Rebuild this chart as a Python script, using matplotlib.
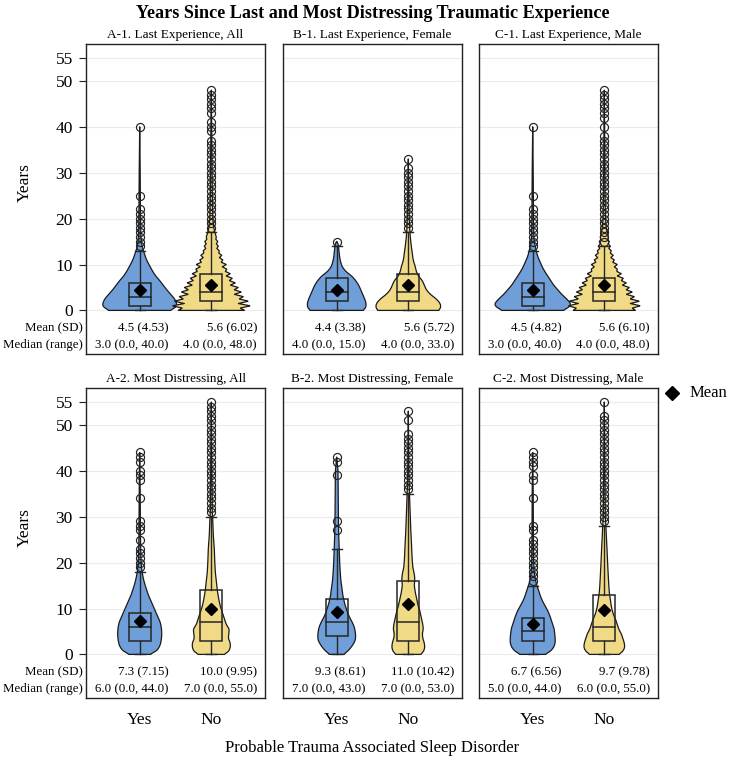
import numpy as np
import matplotlib
matplotlib.use("Agg")
import matplotlib.pyplot as plt
from matplotlib.patches import Rectangle
from matplotlib.lines import Line2D
import matplotlib.transforms as mtransforms

plt.rcParams['font.family'] = ['Liberation Serif', 'DejaVu Serif']

# ---------------- data ----------------
main_title = "Years Since Last and Most Distressing Traumatic Experience"
panel_titles = ["A-1. Last Experience, All", "B-1. Last Experience, Female", "C-1. Last Experience, Male",
                "A-2. Most Distressing, All", "B-2. Most Distressing, Female", "C-2. Most Distressing, Male"]
groups = ["Yes", "No"]
x_label = "Probable Trauma Associated Sleep Disorder"
y_label = "Years"
y_ticks = [0, 10, 20, 30, 40, 50, 55]

mean_yes = [4.5, 4.4, 4.5, 7.3, 9.3, 6.7]
sd_yes = [4.53, 3.38, 4.82, 7.15, 8.61, 6.56]
median_yes = [3.0, 4.0, 3.0, 6.0, 7.0, 5.0]
min_yes = [0.0, 0.0, 0.0, 0.0, 0.0, 0.0]
max_yes = [40.0, 15.0, 40.0, 44.0, 43.0, 44.0]
q1_yes = [1, 2, 1, 3, 4, 3]
q3_yes = [6, 7, 6, 9, 12, 8]
whisker_yes = [13, 14, 13, 18, 23, 15]

mean_no = [5.6, 5.6, 5.6, 10.0, 11.0, 9.7]
sd_no = [6.02, 5.72, 6.10, 9.95, 10.42, 9.78]
median_no = [4.0, 4.0, 4.0, 7.0, 7.0, 6.0]
min_no = [0.0, 0.0, 0.0, 0.0, 0.0, 0.0]
max_no = [48.0, 33.0, 48.0, 55.0, 53.0, 55.0]
q1_no = [2, 2, 2, 3, 3, 3]
q3_no = [8, 8, 7, 14, 16, 13]
whisker_no = [17, 17, 14, 30, 35, 28]

# outliers
out_A1_yes = [14, 15, 16, 17, 18, 19, 20, 21, 22, 25, 40]
out_A1_no = [18, 19, 20, 21, 22, 23, 24, 25, 26, 27, 28, 29, 30, 31, 32, 33, 34, 35, 36,
             37, 39, 40, 41, 43, 44, 45, 46, 47, 48]
out_B1_yes = [15]
out_B1_no = [18, 19, 20, 21, 22, 23, 24, 25, 26, 27, 28, 29, 30, 31, 33]
out_C1_yes = [14, 15, 16, 17, 18, 19, 20, 21, 22, 25, 40]
out_C1_no = [15, 16, 17, 18, 19, 20, 21, 22, 23, 24, 25, 26, 27, 28, 29, 30, 31, 32, 33, 34, 35, 36,
             37, 38, 40, 42, 43, 44, 45, 46, 47, 48]
out_A2_yes = [19, 20, 21, 22, 23, 25, 27, 28, 29, 34, 38, 39, 40, 42, 43, 44]
out_A2_no = [31, 32, 33, 34, 35, 36, 37, 38, 39, 40, 41, 42, 43, 44, 45, 46, 47, 48, 49, 50,
             51, 52, 53, 54, 55]
out_B2_yes = [27, 29, 39, 42, 43]
out_B2_no = [36, 37, 38, 39, 40, 41, 42, 43, 44, 45, 46, 47, 48, 51, 53]
out_C2_yes = [16, 17, 18, 19, 20, 21, 22, 23, 24, 25, 27, 28, 34, 38, 39, 41, 42, 43, 44]
out_C2_no = [29, 30, 31, 32, 33, 34, 35, 36, 37, 38, 39, 40, 41, 42, 43, 44, 45, 46, 47, 48,
             49, 50, 51, 52, 55]

# violin density profiles (level in years, relative half width)
vy_A1_yes = [0, 0.5, 1, 1.5, 2.5, 3.5, 4.5, 5.5, 6.5, 7.5, 8.5, 9.5, 10.5, 11.5, 12.5, 13.5, 14.5, 16, 20, 30, 40]
vw_A1_yes = [30, 35, 37, 37, 35, 31, 27, 23.5, 20, 16, 13, 10.5, 8, 6, 4.5, 3, 2, 1.2, 0.8, 0.5, 0]
vy_A1_no = [0, .5, 1, 1.5, 2, 2.5, 3, 3.5, 4, 4.5, 5, 5.5, 6, 6.5, 7, 7.5, 8, 8.5, 9, 9.5, 10, 10.5,
            11, 11.5, 12, 12.5, 13, 13.5, 14, 14.5, 15, 15.5, 16, 17, 18, 20, 25, 35, 48]
vw_A1_no = [33, 29, 39, 27, 37, 28, 32, 23, 30, 23, 27, 19, 24, 18, 21, 15, 19, 14, 15.5, 11, 15, 10,
            11.5, 8, 10.5, 7.5, 8, 5.5, 7, 5, 6.5, 4.5, 5, 3.5, 2.5, 1.5, 1, 0.6, 0]
vy_B1_yes = [0, 0.5, 1.5, 2.5, 3.5, 4.5, 5.5, 6.5, 7.5, 8.5, 9.5, 10.5, 11.5, 12.5, 13.5, 14.5, 15]
vw_B1_yes = [26, 29, 29.5, 28, 26, 24, 22, 19, 15, 9, 5.5, 4, 3, 2.5, 2, 1.5, 0]
vy_B1_no = [0, 0.5, 1.5, 2.5, 3.5, 4.5, 5.5, 6.5, 7.5, 8.5, 9.5, 10.5, 11.5, 12.5, 14, 16, 17.5, 20, 25, 33]
vw_B1_no = [30, 32.5, 32, 28, 22, 18, 16, 14, 10, 8, 7, 5.5, 4.5, 4, 3, 2, 1.5, 1, 0.6, 0]
vy_C1_yes = [0, 0.5, 1, 1.5, 2.5, 3.5, 4.5, 5.5, 6.5, 7.5, 8.5, 9.5, 10.5, 11.5, 12.5, 13.5, 14.5, 16, 20, 30, 40]
vw_C1_yes = [30, 35, 37.5, 38, 34, 29, 25, 21, 18, 15, 12, 9.5, 7.5, 5.5, 4, 3, 2, 1.2, 0.8, 0.5, 0]
vy_C1_no = [0, .5, 1, 1.5, 2, 2.5, 3, 3.5, 4, 4.5, 5, 5.5, 6, 6.5, 7, 7.5, 8, 8.5, 9, 9.5, 10, 10.5,
            11, 11.5, 12, 12.5, 13, 13.5, 14, 14.5, 15, 15.5, 16, 17, 18, 20, 25, 35, 48]
vw_C1_no = [31, 28, 36, 26, 35, 26, 30, 22, 28, 22, 25, 18, 22, 17, 19, 13, 17, 12.5, 13, 10, 13, 8.5,
            10, 6.5, 9, 6, 7, 4.5, 6, 4, 5, 3.5, 4, 3, 2, 1.2, 0.8, 0.5, 0]
vy_A2_yes = [0, 0.5, 1, 2, 3, 4, 5, 6, 7, 8, 9, 10, 11, 12, 13, 14, 15, 16, 17, 18, 19, 21, 25, 35, 44]
vw_A2_yes = [10, 15, 18, 20.5, 21.5, 22, 22, 21.5, 20.5, 18.5, 16.5, 14.5, 12.5, 10.5, 8.5, 7, 5.5, 4.2,
             3.2, 2.4, 1.8, 1.2, 0.8, 0.5, 0]
vy_A2_no = [0, 0.5, 1.5, 2.5, 3.5, 4.5, 5.5, 6.5, 7.5, 8.5, 9.5, 10.5, 12, 14, 16, 18, 20, 23, 26, 29, 31, 40, 55]
vw_A2_no = [12, 17, 19, 19, 17, 17.5, 18, 15, 13.5, 12, 10.5, 9, 7.5, 6, 5, 4, 3.5, 3, 2, 1.5, 1, 0.6, 0]
vy_B2_yes = [0, 0.5, 1, 2, 3, 4, 5, 6, 7, 8, 9, 10, 11, 12, 13, 14, 16, 18, 20, 23, 26, 30, 35, 40, 43]
vw_B2_yes = [7, 10, 12.5, 16, 18.5, 19, 18.5, 17.5, 15.5, 13, 11, 9.5, 8, 7, 6, 5.5, 4.2, 3.5, 3, 2.5,
             2, 1.7, 1.5, 1.3, 0]
vy_B2_no = [0, 0.5, 1.5, 2.5, 3.5, 4.5, 5.5, 6.5, 7.5, 8.5, 9.5, 10.5, 12, 13.5, 15, 16.5, 17.5, 19, 21,
            24, 27, 30, 33, 36, 40, 53]
vw_B2_no = [12, 15, 16.5, 16, 14.5, 14, 15, 14.5, 13.5, 12.5, 11.5, 10, 8.5, 7, 6, 6.5, 6, 4.5, 3.8,
            3.2, 2.5, 2, 1.5, 1, 0.6, 0]
vy_C2_yes = [0, 0.5, 1.5, 2.5, 3.5, 4.5, 5.5, 6.5, 7.5, 8.5, 9.5, 10.5, 11.5, 12.5, 13.5, 14.5, 15.5, 16.5,
             18, 20, 25, 35, 44]
vw_C2_yes = [12, 17, 21, 22.5, 22.5, 22, 21.5, 20, 18.5, 17, 15, 12.5, 10, 8, 6.5, 5, 3.5, 2.5, 1.5, 1,
             0.7, 0.5, 0]
vy_C2_no = [0, 0.5, 1.5, 2.5, 3.5, 4.5, 5.5, 6.5, 7.5, 8.5, 9.5, 10.5, 12, 13.5, 15, 17, 20, 23, 26, 28,
            30, 40, 55]
vw_C2_no = [14, 18, 20.5, 20, 18.5, 17, 14.5, 13, 11.5, 9.5, 8, 7, 6, 5, 4.5, 4, 3.3, 2.7, 2, 1.6, 1,
            0.6, 0]

violins_yes = [(vy_A1_yes, vw_A1_yes), (vy_B1_yes, vw_B1_yes), (vy_C1_yes, vw_C1_yes),
               (vy_A2_yes, vw_A2_yes), (vy_B2_yes, vw_B2_yes), (vy_C2_yes, vw_C2_yes)]
violins_no = [(vy_A1_no, vw_A1_no), (vy_B1_no, vw_B1_no), (vy_C1_no, vw_C1_no),
              (vy_A2_no, vw_A2_no), (vy_B2_no, vw_B2_no), (vy_C2_no, vw_C2_no)]
outliers_yes = [out_A1_yes, out_B1_yes, out_C1_yes, out_A2_yes, out_B2_yes, out_C2_yes]
outliers_no = [out_A1_no, out_B1_no, out_C1_no, out_A2_no, out_B2_no, out_C2_no]
jagged_no = [True, False, True, False, False, False]

# ---------------- style ----------------
BLUE = '#6f9ed8'
YELLOW = '#f1da86'
EDGE = '#1a1a1a'
BOXC = '#262626'
W, H = 730, 760
PW, PH = 179, 310
col_left = [86, 283, 479]
row_top = [44, 388]
XLIM = (0.25, 2.75)
YLIM = (-9.5, 58.05)
WSCALE = (XLIM[1] - XLIM[0]) / PW   # relative width units -> x data
BOXW = 0.31
CAPW = 0.14

fig = plt.figure(figsize=(W / 100, H / 100), dpi=100)


def draw_violin(ax, xc, ys, ws, color, smooth=True):
    ys = np.asarray(ys, float)
    ws = np.asarray(ws, float) * WSCALE
    yy = np.linspace(ys[0], ys[-1], 800)
    ww = np.interp(yy, ys, ws)
    if smooth:
        dy = yy[1] - yy[0]
        n = max(1, int(0.9 / dy))
        k = np.ones(n) / n
        pad = np.pad(ww, (n, n), mode='edge')
        ww = np.convolve(pad, k, mode='same')[n:-n]
        ww[-1] = 0.0
    xs = np.concatenate([xc - ww, (xc + ww)[::-1]])
    ysp = np.concatenate([yy, yy[::-1]])
    ax.fill(xs, ysp, facecolor=color, edgecolor=EDGE, lw=0.9, zorder=2, joinstyle='round')


def draw_box(ax, xc, q1, med, q3, whi, lo, mean, outs):
    ax.add_patch(Rectangle((xc - BOXW / 2, q1), BOXW, q3 - q1, fill=False,
                           edgecolor=BOXC, lw=1.1, zorder=3))
    ax.plot([xc - BOXW / 2, xc + BOXW / 2], [med, med], color=BOXC, lw=1.1, zorder=3)
    ax.plot([xc, xc], [q3, whi], color=BOXC, lw=1.0, zorder=3)
    ax.plot([xc, xc], [lo, q1], color=BOXC, lw=1.0, zorder=3)
    ax.plot([xc - CAPW / 2, xc + CAPW / 2], [whi, whi], color=BOXC, lw=1.0, zorder=3)
    ax.plot([xc - CAPW / 2, xc + CAPW / 2], [lo, lo], color=BOXC, lw=1.0, zorder=3)
    ax.plot([xc] * len(outs), outs, ls='none', marker='o', ms=5.8, mfc='none',
            mec='#222222', mew=0.85, zorder=4)
    ax.plot([xc], [mean], ls='none', marker='D', ms=6.5, color='black', zorder=5)


for i in range(6):
    r, c = divmod(i, 3)
    left = col_left[c]
    top = row_top[r]
    ax = fig.add_axes([left / W, 1 - (top + PH) / H, PW / W, PH / H])
    ax.set_xlim(*XLIM)
    ax.set_ylim(*YLIM)
    ax.set_yticks(y_ticks)
    ax.yaxis.grid(True, color='#ebebeb', lw=0.8)
    ax.set_axisbelow(True)
    for s in ax.spines.values():
        s.set_color('#222222')
        s.set_linewidth(1.0)

    draw_violin(ax, 1, *violins_yes[i], BLUE, smooth=True)
    draw_violin(ax, 2, *violins_no[i], YELLOW, smooth=not jagged_no[i])
    draw_box(ax, 1, q1_yes[i], median_yes[i], q3_yes[i], whisker_yes[i], min_yes[i], mean_yes[i], outliers_yes[i])
    draw_box(ax, 2, q1_no[i], median_no[i], q3_no[i], whisker_no[i], min_no[i], mean_no[i], outliers_no[i])

    # statistics rows
    for xc, m, sd, md, mn, mx in [(1.40, mean_yes[i], sd_yes[i], median_yes[i], min_yes[i], max_yes[i]),
                                  (2.64, mean_no[i], sd_no[i], median_no[i], min_no[i], max_no[i])]:
        ax.text(xc, -4.0, f"{m:.1f} ({sd:.2f})", ha='right', va='center', fontsize=9.3, zorder=6)
        ax.text(xc, -7.6, f"{md:.1f} ({mn:.1f}, {mx:.1f})", ha='right', va='center', fontsize=9.3, zorder=6)

    if c == 0:
        ax.tick_params(axis='y', direction='out', length=5, width=0.8, labelsize=12.5, pad=4.5, color='#222222')
        tr = mtransforms.blended_transform_factory(ax.transAxes, ax.transData)
        ax.text(-0.015, -4.0, "Mean (SD)", transform=tr, ha='right', va='center', fontsize=9.3)
        ax.text(-0.015, -7.6, "Median (range)", transform=tr, ha='right', va='center', fontsize=9.3)
    else:
        ax.tick_params(axis='y', left=False, labelleft=False)

    ax.set_xticks([1, 2])
    if r == 1:
        ax.set_xticklabels(groups)
        ax.tick_params(axis='x', length=0, labelsize=12.5, pad=10)
    else:
        ax.tick_params(axis='x', length=0, labelbottom=False)

    ax.set_title(panel_titles[i], fontsize=9.5, pad=4)

fig.text(373 / W, 1 - 13 / H, main_title, ha='center', va='center', fontsize=13.1, fontweight='bold')
fig.text(372 / W, 1 - 748 / H, x_label, ha='center', va='center', fontsize=12)
fig.text(25 / W, 1 - 183 / H, y_label, ha='center', va='center', rotation=90, fontsize=12.5)
fig.text(25 / W, 1 - 528 / H, y_label, ha='center', va='center', rotation=90, fontsize=12.5)

# legend
fig.add_artist(Line2D([672 / W], [1 - 393 / H], transform=fig.transFigure, marker='D', ms=7.5,
                      color='black', ls='none'))
fig.text(690 / W, 1 - 393 / H, "Mean", ha='left', va='center', fontsize=12)

fig.savefig("out.png", dpi=100)
